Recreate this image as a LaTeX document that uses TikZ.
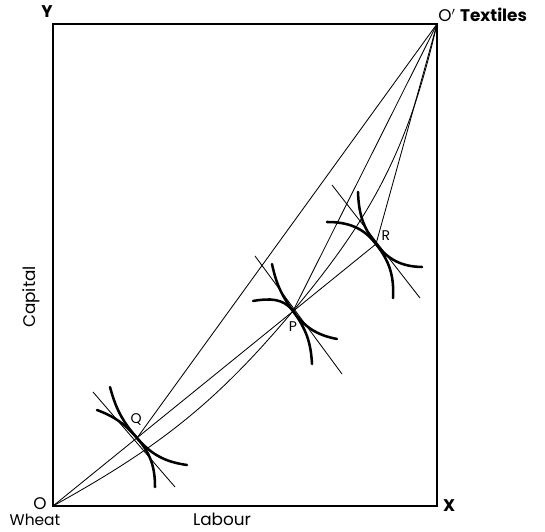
\documentclass[tikz,border=0pt]{standalone}
\usepackage{fontspec}
\setsansfont{Poppins}
\usetikzlibrary{calc}
\tikzset{every path/.style={semithick},
  ray/.style={line width=0.6pt},
  isoquant/.style={line width=1.8pt, line cap=round},
  lbl/.style={font=\sffamily\large, inner sep=1pt},
  pt/.style={font=\sffamily, inner sep=1pt}}

\begin{document}
\begin{tikzpicture}
  \useasboundingbox (0,0) rectangle (13.625,13.275);

  % corners of the box
  \coordinate (O) at (1.325,0.625);
  \coordinate (X) at (10.925,0.625);
  \coordinate (Y) at (1.325,12.675);
  \coordinate (Ot) at (10.925,12.675);
  \draw[line width=0.9pt] (O) -- (X) -- (Ot) -- (Y) -- cycle;

  \node[lbl, inner sep=0pt] (lO) at (1.0,0.69) {O};
  \node[lbl, inner sep=0pt, font=\sffamily\fontsize{11}{13}\selectfont] (lWheat) at (0.875,0.27) {Wheat};
  \node[lbl, right=3pt, font=\sffamily\large\bfseries] (lX) at (X) {X};
  \node[lbl, font=\sffamily\large\bfseries] (lY) at (1.175,12.975) {Y};
  \node[lbl, anchor=south west, inner sep=0pt] (lOt) at (10.95,12.72) {O$'$\ \textbf{Textiles}};
  \node[lbl] (lLabour) at (5.55,0.3) {Labour};
  \node[lbl, rotate=90] (lCapital) at (0.775,5.85) {Capital};

  % points on the contract curve
  \coordinate (Q) at (3.425,2.325);
  \coordinate (P) at (7.325,5.5);
  \coordinate (R) at (9.4,7.175);

  % contract curve and rays
  \draw[ray] (O) to[out=29,in=230] (P) to[out=50,in=257] (Ot);
  \draw[ray] (O) -- (R);
  \draw[ray] (Ot) -- (Q);
  \draw[ray] (Ot) -- (P);
  \draw[ray] (Ot) -- (R);

  % Q
  \draw[ray] ($(Q)+(-1.1,1.15)$) -- ($(Q)+(0.95,-1.225)$);
  \draw[isoquant] ($(Q)+(-0.675,1.275)$) to[out=-75,in=131] (Q) to[out=-49,in=172] ($(Q)+(1.25,-0.675)$);
  \draw[isoquant] ($(Q)+(-1.0,0.7)$) to[out=-21,in=131] (Q) to[out=-49,in=90] ($(Q)+(0.45,-1.225)$);
  \node[pt] (lQ) at ($(Q)+(-0.02,0.47)$) {Q};

  % P
  \draw[ray] ($(P)+(-0.95,1.375)$) -- ($(P)+(1.225,-1.575)$);
  \draw[isoquant] ($(P)+(-0.525,1.175)$) to[out=-78,in=126] (P) to[out=-54,in=169] ($(P)+(1.1,-0.7)$);
  \draw[isoquant] ($(P)+(-1.0,0.25)$) to[out=10,in=126] (P) to[out=-54,in=93] ($(P)+(0.475,-1.325)$);
  \node[pt] (lP) at ($(P)+(0,-0.4)$) {P};

  % R
  \draw[ray] ($(R)+(-1.1,1.475)$) -- ($(R)+(1.1,-1.35)$);
  \draw[isoquant] ($(R)+(-0.45,1.3)$) to[out=-88,in=128] (R) to[out=-52,in=179] ($(R)+(1.15,-0.575)$);
  \draw[isoquant] ($(R)+(-1.225,0.55)$) to[out=0,in=128] (R) to[out=-52,in=87] ($(R)+(0.425,-1.35)$);
  \node[pt] (lR) at ($(R)+(0.25,0.2)$) {R};
\end{tikzpicture}
\end{document}
